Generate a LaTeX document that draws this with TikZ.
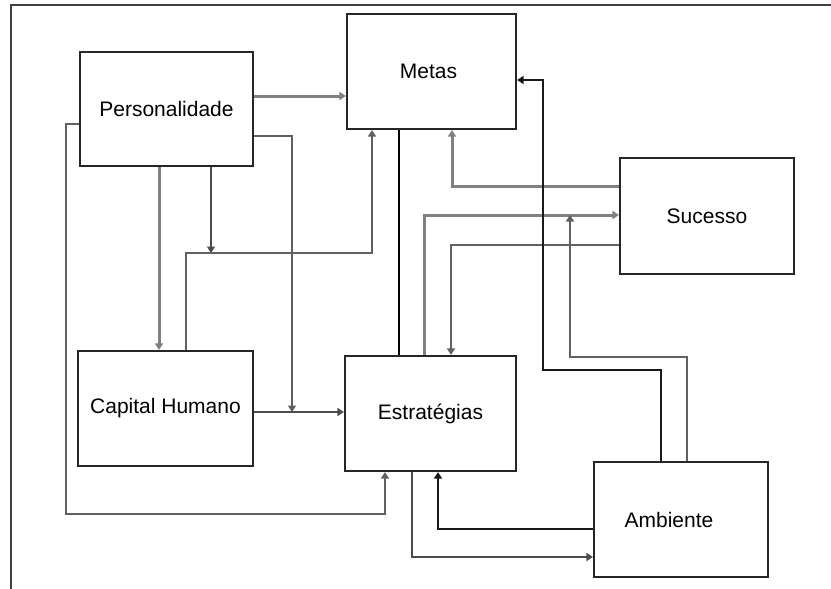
\documentclass[tikz,border=0pt]{standalone}
\usepackage{fontspec}
\setmainfont{Liberation Sans}
\usetikzlibrary{arrows.meta}
\begin{document}
\begin{tikzpicture}[x=1pt,y=-1pt,
  box/.style={draw=black!85,line width=2.1pt,inner sep=0pt,fill=white,
    font=\fontsize{21}{24}\selectfont},
  tip/.style={-{Triangle[length=6.5pt,width=8pt]}},
  graythick/.style={draw=black!50,line width=3pt},
  graymid/.style={draw=black!62,line width=2.2pt},
  thinline/.style={draw=black!70,line width=1.5pt},
  blackthin/.style={draw=black,line width=1.5pt},
  blackthick/.style={draw=black!90,line width=2.7pt}]
\useasboundingbox (0,0) rectangle (831,589);
\fill[white] (0,0) rectangle (831,589);
% outer frame (open to the right and below)
\draw[black!75,line width=2.2pt] (831,5) -- (11,5) -- (11,589);

% boxes
\node[box,minimum width=173,minimum height=114] (pers) at (166.5,109) {Personalidade};
\node[box,minimum width=169,minimum height=115] (metas) at (431.5,71.5) {\hspace*{-6pt}Metas};
\node[box,minimum width=174,minimum height=116] (suc) at (707,216) {Sucesso};
\node[box,minimum width=175,minimum height=115] (cap) at (165.5,408.5) {Capital Humano};
\node[box,minimum width=171,minimum height=115] (est) at (430.5,413.5) {Estratégias};
\node[box,minimum width=174,minimum height=115] (amb) at (681,519.5) {\hspace*{-24pt}Ambiente};

% junction points on other connectors
\coordinate (j1) at (292,412);
\coordinate (j2) at (211,253);
\coordinate (j3) at (570,215);

% Personalidade
\draw[graythick,tip] (pers.east |- 0,96) -- (metas.west |- 0,96);
\draw[graymid,tip] (pers.east |- 0,136) -| (j1);
\draw[graythick,tip] (pers.south -| 159,0) -- (cap.north -| 159,0);
\draw[thinline,tip] (pers.south -| 211,0) -- (j2);
\draw[graymid,tip] (pers.west |- 0,124) -| (66,514) -| (est.south -| 385,0);

% Capital Humano
\draw[thinline,tip] (cap.east |- 0,412) -- (est.west |- 0,412);
\draw[graymid,tip] (cap.north -| 186,0) |- (372,253) -- (metas.south -| 372,0);

% Metas and Estrategias
\draw[blackthin] (metas.south -| 399,0) -- (est.north -| 399,0);
\draw[graythick,tip] (est.north -| 424,0) |- (suc.west |- 0,215);
\draw[thinline,tip] (est.south -| 412,0) |- (amb.west |- 0,557);

% Sucesso
\draw[graymid,tip] (suc.west |- 0,245) -| (est.north -| 451,0);
\draw[graythick,tip] (suc.west |- 0,186) -| (metas.south -| 452,0);

% Ambiente
\draw[blackthick,tip] (amb.north -| 661,0) |- (543,370) |- (metas.east |- 0,80);
\draw[graymid,tip] (amb.north -| 687,0) |- (570,357) -- (j3);
\draw[blackthick,tip] (amb.west |- 0,529) -| (est.south -| 438,0);
\end{tikzpicture}
\end{document}
